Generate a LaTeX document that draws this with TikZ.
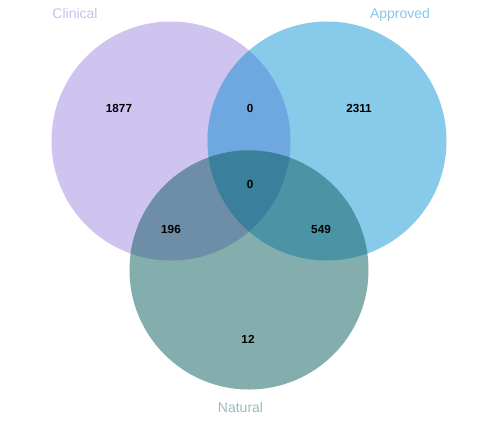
\documentclass[tikz,border=0pt]{standalone}
\usepackage{fontspec}
\setmainfont{Liberation Sans}
\definecolor{cC}{HTML}{CFC3F0}
\definecolor{cA}{HTML}{87CAEA}
\definecolor{cN}{HTML}{84ADAD}
\definecolor{cCA}{HTML}{6FA8E0}
\definecolor{cCN}{HTML}{6E8DA6}
\definecolor{cAN}{HTML}{4A94A6}
\definecolor{cCAN}{HTML}{3A809C}
\definecolor{tC}{HTML}{CBBEF0}
\definecolor{tA}{HTML}{85C8EA}
\definecolor{tN}{HTML}{9BBCBC}
\begin{document}
\begin{tikzpicture}[x=1pt,y=-1pt,
  num/.style={font=\bfseries\fontsize{11.7}{13}\selectfont, text=black, inner sep=0pt, anchor=base},
  setlabel/.style={font=\fontsize{14}{16}\selectfont, inner sep=0pt, anchor=base}]
\useasboundingbox (0,0) rectangle (500,423);
\def\CC{(171,141) circle [radius=119.5]}
\def\CA{(327,141) circle [radius=119.5]}
\def\CN{(249,270) circle [radius=119.5]}
% single sets
\fill[cC] \CC;
\fill[cA] \CA;
\fill[cN] \CN;
% pairwise
\begin{scope}\clip \CC; \fill[cCA] \CA; \end{scope}
\begin{scope}\clip \CC; \fill[cCN] \CN; \end{scope}
\begin{scope}\clip \CA; \fill[cAN] \CN; \end{scope}
\begin{scope}\clip \CC; \clip \CA; \fill[cCAN] \CN; \end{scope}
% labels
\node[setlabel, text=tC] (lC) at (75,18) {Clinical};
\node[setlabel, text=tA] (lA) at (400,18) {Approved};
\node[setlabel, text=tN] (lN) at (240.5,412.5) {Natural};
% counts
\node[num] (n1) at (119,112) {1877};
\node[num] (n2) at (250,112.5) {0};
\node[num] (n3) at (359,112.5) {2311};
\node[num] (n4) at (250,188) {0};
\node[num] (n5) at (171,233) {196};
\node[num] (n6) at (321,233) {549};
\node[num] (n7) at (248,343) {12};
\end{tikzpicture}
\end{document}
